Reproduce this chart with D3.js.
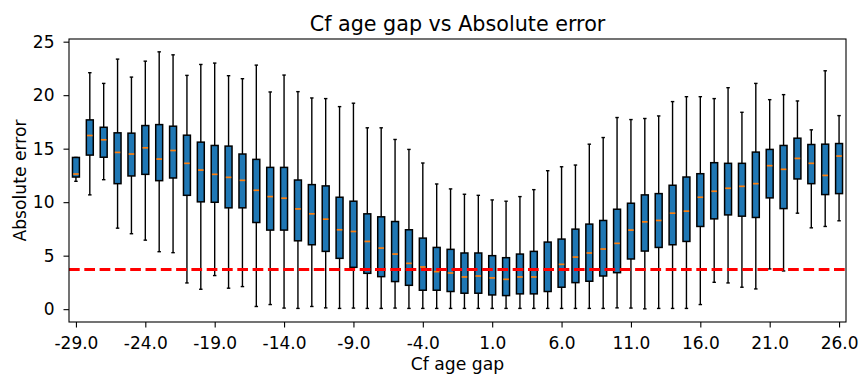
<!DOCTYPE html>
<html>
<head>
<meta charset="utf-8">
<script src="https://cdn.jsdelivr.net/npm/d3@7"></script>
<style>
  html, body { margin: 0; padding: 0; background: #fff; overflow: hidden; }
  svg { display: block; font-family: 'DejaVu Sans', sans-serif; }
</style>
</head>
<body>
<svg id="drawing_region"></svg>
<script>
// Cf age gap categories (one box each)
const ageGap = [-29, -28, -27, -26, -25, -24, -23, -22, -21, -20, -19, -18, -17, -16,
                -15, -14, -13, -12, -11, -10, -9, -8, -7, -6, -5, -4, -3, -2,
                -1, 0, 1, 2, 3, 4, 5, 6, 7, 8, 9, 10, 11, 12, 13, 14,
                15, 16, 17, 18, 19, 20, 21, 22, 23, 24, 25, 26];

// box statistics
const whiskerLow = [11.95, 10.68, 12.1, 7.57, 7.05, 6.45, 5.37, 5.28, 2.45, 1.86, 3.14, 1.96, 2.11, 0.25,
                    0.43, 0.1, 0.07, 0.25, 0.12, 0.07, 0.1, 0.07, 0.07, 0.1, 0.07, 0.07, 0.07, 0.07,
                    0.07, 0.07, 0.07, 0.07, 0.07, 0.07, 0.07, 0.07, 0.07, 0.07, 0.07, 0.12, 0.1, 0.03,
                    0.07, 0.07, 0.07, 0.43, 2.51, 2.45, 2.05, 1.89, 3.76, 3.57, 8.97, 7.6, 7.73, 8.26];
const q1 = [12.35, 14.4, 14.2, 11.73, 12.45, 12.6, 12.01, 12.26, 10.64, 10.03, 9.99, 9.47, 9.47, 8.1,
            7.39, 7.39, 6.39, 6.02, 5.4, 4.75, 3.91, 3.35, 3.04, 2.58, 2.23, 1.77, 1.77, 1.65,
            1.49, 1.49, 1.33, 1.27, 1.43, 1.43, 1.65, 2.05, 2.48, 2.61, 3.1, 3.41, 4.69, 5.43,
            5.77, 6.02, 6.33, 7.73, 8.44, 8.81, 8.69, 8.57, 10.4, 9.4, 12.17, 11.73, 10.71, 10.8];
const median = [12.63, 16.23, 15.83, 14.65, 14.5, 15.08, 14.03, 14.83, 13.63, 13.0, 12.6, 12.32, 12.04, 11.11,
                10.52, 10.37, 9.37, 8.91, 8.41, 7.42, 7.26, 6.33, 5.71, 5.15, 4.28, 3.94, 3.51, 3.38,
                3.01, 3.1, 2.92, 2.79, 3.01, 3.01, 3.66, 4.19, 4.87, 5.25, 5.62, 6.15, 7.39, 8.16,
                8.29, 8.97, 9.16, 10.46, 11.02, 11.3, 11.48, 11.73, 13.41, 13.07, 14.09, 13.63, 12.5, 14.31];
const q3 = [14.18, 17.69, 17.0, 16.48, 16.45, 17.16, 17.25, 17.1, 16.26, 15.61, 15.3, 15.24, 14.5, 14.0,
            13.25, 13.25, 12.07, 11.64, 11.52, 10.46, 10.09, 8.91, 8.63, 8.19, 7.42, 6.64, 5.77, 5.59,
            5.25, 5.25, 5.0, 4.81, 5.15, 5.4, 6.27, 6.55, 7.48, 7.95, 8.29, 9.34, 9.9, 10.68,
            10.8, 11.58, 12.35, 12.66, 13.69, 13.63, 13.63, 14.68, 14.93, 15.3, 15.98, 15.39, 15.42, 15.48];
const whiskerHigh = [14.18, 22.1, 21.1, 23.37, 21.69, 23.18, 24.05, 23.77, 21.85, 22.87, 23.0, 21.82, 21.54, 22.81,
                     20.3, 21.88, 20.33, 19.74, 19.68, 18.93, 19.25, 16.95, 16.95, 15.86, 14.93, 13.66, 11.7, 11.24,
                     10.74, 10.64, 10.21, 10.09, 10.52, 11.17, 12.94, 13.31, 13.47, 15.42, 16.04, 17.91, 17.72, 17.82,
                     18.06, 19.4, 19.86, 19.86, 19.68, 20.7, 18.4, 21.1, 19.58, 20.05, 19.46, 16.76, 22.28, 18.09];

const baseline = 3.7;  // red dashed reference line

const xTickLabels = ['-29.0', '-24.0', '-19.0', '-14.0', '-9.0', '-4.0', '1.0',
                     '6.0', '11.0', '16.0', '21.0', '26.0'];
const yTicks = [0, 5, 10, 15, 20, 25];

const config = {
    width: 859,
    height: 375,
    margin: {top: 39, right: 13, bottom: 53, left: 69}
};

const svg = d3.select('#drawing_region')
    .attr('width', config.width)
    .attr('height', config.height);

const innerWidth = config.width - config.margin.left - config.margin.right;
const innerHeight = config.height - config.margin.top - config.margin.bottom;

const chart = svg.append('g')
    .attr('transform', `translate(${config.margin.left}, ${config.margin.top})`);

// positions 1..n like matplotlib's boxplot
const boxes = ageGap.map((g, i) => ({
    pos: i + 1, label: g,
    lo: whiskerLow[i], q1: q1[i], med: median[i], q3: q3[i], hi: whiskerHigh[i]
}));

const xscale = d3.scaleLinear()
    .domain([0.5, ageGap.length + 0.5])
    .range([0, innerWidth]);

const yscale = d3.scaleLinear()
    .domain([-1.2, 25.25])
    .range([innerHeight, 0]);

const boxW = xscale(1.25) - xscale(1);   // half of 0.5 width
const capW = boxW / 2;

// axes
const tickPositions = xTickLabels.map(s => ageGap.indexOf(+s) + 1);
const xaxis = d3.axisBottom(xscale)
    .tickValues(tickPositions)
    .tickFormat((d, i) => xTickLabels[i])
    .tickSize(5.5)
    .tickPadding(9);

const yaxis = d3.axisLeft(yscale)
    .tickValues(yTicks)
    .tickFormat(d3.format('d'))
    .tickSize(5.5)
    .tickPadding(9);

const xaxis_group = chart.append('g')
    .attr('transform', `translate(0, ${innerHeight})`)
    .call(xaxis);
const yaxis_group = chart.append('g')
    .call(yaxis);

[xaxis_group, yaxis_group].forEach(g => {
    g.select('.domain').remove();
    g.attr('font-size', 17).attr('font-family', "'DejaVu Sans', sans-serif");
    g.selectAll('line').attr('stroke', '#000').attr('stroke-width', 1.1);
    g.selectAll('text').attr('fill', '#000');
});

// whiskers
const box_g = chart.selectAll('.box')
    .data(boxes)
    .enter()
    .append('g')
    .attr('class', 'box');

box_g.append('line')
    .attr('x1', d => xscale(d.pos)).attr('x2', d => xscale(d.pos))
    .attr('y1', d => yscale(d.lo)).attr('y2', d => yscale(d.q1))
    .attr('stroke', '#000').attr('stroke-width', 1.4);
box_g.append('line')
    .attr('x1', d => xscale(d.pos)).attr('x2', d => xscale(d.pos))
    .attr('y1', d => yscale(d.q3)).attr('y2', d => yscale(d.hi))
    .attr('stroke', '#000').attr('stroke-width', 1.4);

// caps
box_g.append('line')
    .attr('x1', d => xscale(d.pos) - capW).attr('x2', d => xscale(d.pos) + capW)
    .attr('y1', d => yscale(d.lo)).attr('y2', d => yscale(d.lo))
    .attr('stroke', '#000').attr('stroke-width', 1.4);
box_g.append('line')
    .attr('x1', d => xscale(d.pos) - capW).attr('x2', d => xscale(d.pos) + capW)
    .attr('y1', d => yscale(d.hi)).attr('y2', d => yscale(d.hi))
    .attr('stroke', '#000').attr('stroke-width', 1.4);

// boxes
box_g.append('rect')
    .attr('x', d => xscale(d.pos) - boxW)
    .attr('y', d => yscale(d.q3))
    .attr('width', boxW * 2)
    .attr('height', d => yscale(d.q1) - yscale(d.q3))
    .attr('fill', '#1f77b4')
    .attr('stroke', '#000')
    .attr('stroke-width', 1.5);

// medians
box_g.append('line')
    .attr('x1', d => xscale(d.pos) - boxW + 0.7).attr('x2', d => xscale(d.pos) + boxW - 0.7)
    .attr('y1', d => yscale(d.med)).attr('y2', d => yscale(d.med))
    .attr('stroke', '#ff7f0e').attr('stroke-width', 1.7);

// reference line
chart.append('line')
    .attr('x1', 0).attr('x2', innerWidth)
    .attr('y1', yscale(baseline)).attr('y2', yscale(baseline))
    .attr('stroke', 'red')
    .attr('stroke-width', 2.9)
    .attr('stroke-dasharray', '10.7,4.6');

// frame
chart.append('rect')
    .attr('width', innerWidth)
    .attr('height', innerHeight)
    .attr('fill', 'none')
    .attr('stroke', '#000')
    .attr('stroke-width', 1.1);

// labels
svg.append('text')
    .attr('x', config.margin.left + innerWidth / 2)
    .attr('y', 31)
    .attr('text-anchor', 'middle')
    .attr('font-size', 20.7)
    .text('Cf age gap vs Absolute error');

svg.append('text')
    .attr('x', config.margin.left + innerWidth / 2)
    .attr('y', 369.5)
    .attr('text-anchor', 'middle')
    .attr('font-size', 17.2)
    .text('Cf age gap');

svg.append('text')
    .attr('transform', `translate(25.5, ${config.margin.top + innerHeight / 2}) rotate(-90)`)
    .attr('text-anchor', 'middle')
    .attr('font-size', 17.2)
    .text('Absolute error');
</script>
</body>
</html>
